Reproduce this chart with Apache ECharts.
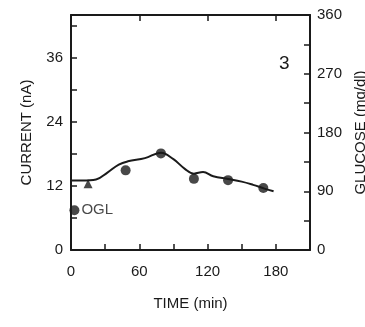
<!DOCTYPE html>
<html>
<head>
<meta charset="utf-8">
<script src="https://cdn.jsdelivr.net/npm/echarts@6/dist/echarts.min.js"></script>
<style>
* { margin: 0; padding: 0; }
#chart { width: 365px; height: 327px; background: #fff; }
</style>
</head>
<body>
<div id="chart"></div>
<script>
// current trace (nA) vs time (min), left axis
var currentTimes = [0, 10, 22, 32, 42, 50, 65, 79, 90, 100, 108, 116, 125, 138, 150, 160, 170, 178];
var currentValues = [13.0, 13.0, 13.2, 14.5, 16.0, 16.6, 17.2, 18.2, 17.0, 15.2, 14.3, 14.6, 13.8, 13.3, 12.8, 12.2, 11.5, 11.0];
// blood glucose samples (mg/dl), right axis
var glucoseTimes = [3, 48, 79, 108, 138, 169];
var glucoseValues = [61, 122, 148, 109, 107, 95];
// OGL marker
var oglTime = [15];
var oglValue = [12.4];

var ink = '#1a1a1a';
var font = '"Liberation Sans Narrow", "Liberation Sans", Arial, sans-serif';

function pairs(xs, ys) {
  return xs.map(function (x, i) { return [x, ys[i]]; });
}

var chartDom = document.getElementById('chart');
var myChart = echarts.init(chartDom);
var option = {
  animation: false,
  grid: { left: 71, right: 55, top: 15, bottom: 77, outerBoundsMode: 'none', containLabel: false },
  graphic: [{
    type: 'text', left: 279, top: 54,
    style: { text: '3', font: '19px ' + font, fill: ink }
  }],
  xAxis: [
    {
      type: 'value', min: 0, max: 210, interval: 30,
      name: 'TIME (min)', nameLocation: 'middle', nameGap: 46,
      nameTextStyle: { color: ink, fontFamily: font, fontSize: 15 },
      axisLine: { onZero: false, lineStyle: { color: ink, width: 2 } },
      axisTick: { inside: true, length: 6, lineStyle: { color: ink, width: 1.5 } },
      axisLabel: {
        color: ink, fontFamily: font, fontSize: 15, margin: 14,
        formatter: function (v) { return v % 60 === 0 ? String(v) : ''; }
      },
      splitLine: { show: false }
    },
    {
      type: 'value', position: 'top', min: 0, max: 210, interval: 60,
      axisLine: { show: true, onZero: false, lineStyle: { color: ink, width: 2 } },
      axisTick: { inside: true, length: 6, lineStyle: { color: ink, width: 1.5 } },
      axisLabel: { show: false },
      splitLine: { show: false }
    }
  ],
  yAxis: [
    {
      type: 'value', min: 0, max: 44, interval: 6,
      name: 'CURRENT (nA)', nameLocation: 'middle', nameGap: 37, nameRotate: 90,
      nameTextStyle: { color: ink, fontFamily: font, fontSize: 15 },
      axisLine: { show: true, onZero: false, lineStyle: { color: ink, width: 2 } },
      axisTick: { inside: true, length: 6, lineStyle: { color: ink, width: 1.5 } },
      axisLabel: {
        color: ink, fontFamily: font, fontSize: 15, margin: 8,
        formatter: function (v) { return v % 12 === 0 ? String(v) : ''; }
      },
      splitLine: { show: false }
    },
    {
      type: 'value', position: 'right', min: 0, max: 360, interval: 45,
      name: 'GLUCOSE (mg/dl)', nameLocation: 'middle', nameGap: 37, nameRotate: 90,
      nameTextStyle: { color: ink, fontFamily: font, fontSize: 15 },
      axisLine: { show: true, onZero: false, lineStyle: { color: ink, width: 2 } },
      axisTick: { inside: true, length: 6, lineStyle: { color: ink, width: 1.5 } },
      axisLabel: {
        color: ink, fontFamily: font, fontSize: 15, margin: 7,
        formatter: function (v) { return v % 90 === 0 ? String(v) : ''; }
      },
      splitLine: { show: false }
    }
  ],
  series: [
    {
      name: 'current', type: 'line', xAxisIndex: 0, yAxisIndex: 0,
      data: pairs(currentTimes, currentValues),
      smooth: 0.4, symbol: 'none',
      lineStyle: { color: ink, width: 2 }
    },
    {
      name: 'glucose', type: 'scatter', xAxisIndex: 0, yAxisIndex: 1,
      data: pairs(glucoseTimes, glucoseValues),
      symbol: 'circle', symbolSize: 10,
      itemStyle: { color: ink },
      label: {
        show: true, position: 'right', distance: 2,
        color: ink, fontFamily: font, fontSize: 15,
        formatter: function (p) { return p.dataIndex === 0 ? 'OGL' : ''; }
      }
    },
    {
      name: 'OGL', type: 'scatter', xAxisIndex: 0, yAxisIndex: 0,
      data: pairs(oglTime, oglValue),
      symbol: 'triangle', symbolSize: 9,
      itemStyle: { color: ink }
    }
  ]
};
myChart.setOption(option);
</script>
</body>
</html>
